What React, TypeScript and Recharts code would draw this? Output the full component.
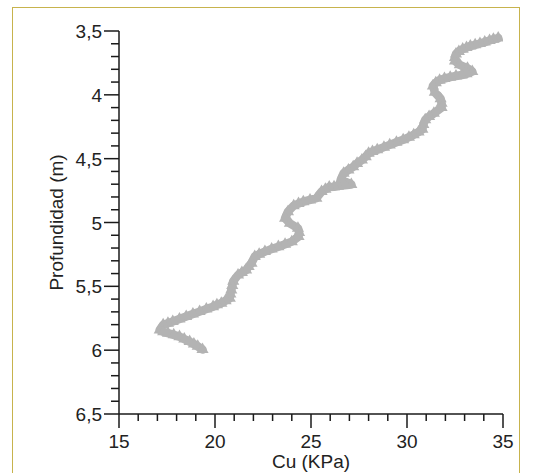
import React from 'react';
import { ScatterChart, Scatter, XAxis, YAxis, ZAxis } from 'recharts';

// Cu (KPa) readings, in order of increasing depth
const cuValues = [
  34.75, 34.5, 34.3, 34.05, 33.8, 33.55, 33.3, 33.1, 32.9, 32.7, 32.55, 32.5,
  32.5, 32.75, 33.15, 33.4, 33.1, 32.85, 32.55, 32.25, 31.95, 31.7, 31.5, 31.35,
  31.45, 31.75, 31.8, 31.8, 31.4, 31.15, 30.95, 30.85, 30.8, 30.6, 30.35, 30.1,
  29.8, 29.45, 29.1, 28.8, 28.45, 28.2, 28.0, 27.85, 27.65, 27.4, 27.2, 26.95,
  26.7, 26.55, 27.1, 26.4, 26.2, 25.95, 25.75, 25.55, 25.28, 24.95, 24.6, 24.35,
  24.1, 23.8, 23.65, 23.9, 24.32, 24.38, 24.35, 24.0, 23.65, 23.3, 22.95, 22.6,
  22.3, 22.07, 21.9, 21.75, 21.62, 21.4, 21.2, 20.95, 20.9, 20.85, 20.8, 20.77,
  20.55, 20.33, 20.1, 19.9, 19.55, 19.2, 18.85, 18.5, 18.15, 17.8, 17.55, 17.3,
  17.12, 17.3, 17.55, 17.85, 18.15, 18.4, 18.68, 18.9, 19.1, 19.35,
];

// Profundidad (m)
const depthValues = [
  3.555, 3.565, 3.575, 3.587, 3.598, 3.608, 3.618, 3.63, 3.642, 3.66, 3.68, 3.708,
  3.735, 3.765, 3.792, 3.818, 3.835, 3.845, 3.852, 3.862, 3.872, 3.885, 3.905, 3.93,
  3.98, 4.03, 4.065, 4.1, 4.145, 4.17, 4.195, 4.232, 4.27, 4.292, 4.312, 4.332,
  4.352, 4.372, 4.392, 4.41, 4.43, 4.444, 4.458, 4.484, 4.51, 4.537, 4.563, 4.588,
  4.614, 4.665, 4.702, 4.715, 4.72, 4.722, 4.74, 4.758, 4.81, 4.823, 4.837, 4.852,
  4.868, 4.915, 4.967, 5.006, 5.045, 5.078, 5.11, 5.15, 5.17, 5.189, 5.208, 5.228,
  5.248, 5.267, 5.319, 5.345, 5.372, 5.392, 5.411, 5.46, 5.494, 5.528, 5.56, 5.593,
  5.612, 5.632, 5.645, 5.659, 5.678, 5.698, 5.717, 5.737, 5.756, 5.776, 5.789, 5.802,
  5.841, 5.855, 5.867, 5.88, 5.894, 5.913, 5.933, 5.952, 5.97, 5.995,
];

const xTicks = [15, 16, 17, 18, 19, 20, 21, 22, 23, 24, 25, 26, 27, 28, 29, 30, 31, 32, 33, 34, 35];
const yTicks = [
  3.5, 3.6, 3.7, 3.8, 3.9, 4, 4.1, 4.2, 4.3, 4.4, 4.5, 4.6, 4.7, 4.8, 4.9, 5,
  5.1, 5.2, 5.3, 5.4, 5.5, 5.6, 5.7, 5.8, 5.9, 6, 6.1, 6.2, 6.3, 6.4, 6.5,
];

const xLabel = 'Cu (KPa)';
const yLabel = 'Profundidad (m)';

const points = cuValues.map((cu, i) => ({ cu, depth: depthValues[i] }));

const FONT = '"Liberation Sans", Arial, sans-serif';
const AXIS = '#1a1a1a';
const SERIES = '#b3b3b3';

const isMult = (v: number, step: number) => Math.abs(v / step - Math.round(v / step)) < 1e-6;
const fmt = (v: number) => String(v).replace('.', ',');

const XTick = (props: any) => {
  const { x, y, payload } = props;
  const v = payload.value as number;
  const major = isMult(v, 5);
  return (
    <g>
      <line x1={x} x2={x} y1={y} y2={y + (major ? 14 : 7)} stroke={AXIS} strokeWidth={1.5} />
      {major && (
        <text x={x} y={y + 34} textAnchor="middle" fontFamily={FONT} fontSize={19} fill="#222">
          {fmt(v)}
        </text>
      )}
    </g>
  );
};

const YTick = (props: any) => {
  const { x, y, payload } = props;
  const v = payload.value as number;
  const major = isMult(v, 0.5);
  return (
    <g>
      <line x1={x - (major ? 15 : 8)} x2={x} y1={y} y2={y} stroke={AXIS} strokeWidth={1.5} />
      {major && (
        <text x={x - 17} y={y + 7} textAnchor="end" fontFamily={FONT} fontSize={19} fill="#222">
          {fmt(v)}
        </text>
      )}
    </g>
  );
};

export default function App() {
  return (
    <div
      style={{
        position: 'fixed',
        left: 0,
        top: 0,
        width: 535,
        height: 473,
        overflow: 'hidden',
        background: '#fff',
      }}
    >
      <div
        style={{
          position: 'absolute',
          left: 12,
          top: 7,
          width: 508,
          height: 520,
          border: '1.5px solid #c7b34d',
          boxSizing: 'border-box',
        }}
      />
      <div style={{ position: 'absolute', left: 0, top: 0 }}>
        <ScatterChart width={535} height={473} margin={{ top: 31, right: 32, bottom: 0, left: 0 }}>
          <XAxis
            type="number"
            dataKey="cu"
            domain={[15, 35]}
            ticks={xTicks}
            interval={0}
            allowDataOverflow
            height={59}
            tickSize={0}
            tickMargin={0}
            tickLine={false}
            axisLine={{ stroke: AXIS, strokeWidth: 1.5 }}
            tick={<XTick />}
            label={() => (
              <text x={311} y={468} textAnchor="middle" fontFamily={FONT} fontSize={19} fill="#222">
                {xLabel}
              </text>
            )}
          />
          <YAxis
            type="number"
            dataKey="depth"
            domain={[3.5, 6.5]}
            reversed
            ticks={yTicks}
            interval={0}
            allowDataOverflow
            width={119}
            tickSize={0}
            tickMargin={0}
            tickLine={false}
            axisLine={{ stroke: AXIS, strokeWidth: 1.5 }}
            tick={<YTick />}
            label={() => (
              <text
                x={62.5}
                y={222.5}
                transform="rotate(-90, 62.5, 222.5)"
                textAnchor="middle"
                fontFamily={FONT}
                fontSize={19}
                fill="#222"
              >
                {yLabel}
              </text>
            )}
          />
          <ZAxis type="number" range={[50, 50]} />
          <Scatter
            data={points}
            fill={SERIES}
            shape="triangle"
            line={{ stroke: SERIES, strokeWidth: 8.5, strokeLinejoin: 'round', strokeLinecap: 'round' }}
            lineType="joint"
            isAnimationActive={false}
          />
        </ScatterChart>
      </div>
    </div>
  );
}
